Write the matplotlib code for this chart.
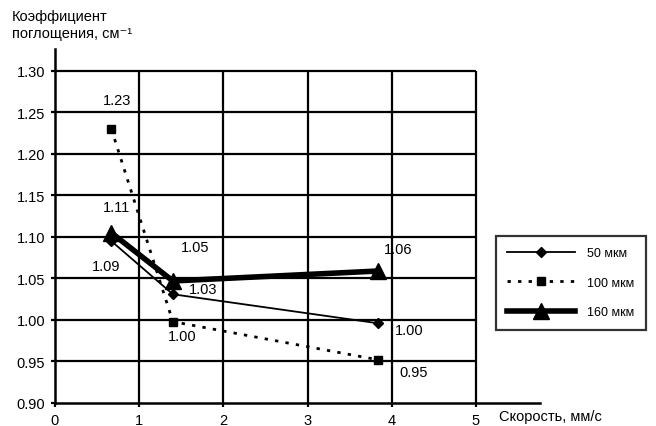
import matplotlib
matplotlib.use('Agg')
import matplotlib.pyplot as plt

plt.rcParams['font.family'] = ['Liberation Sans', 'DejaVu Sans']

# speed, mm/s
speed = [0.67, 1.40, 3.84]

# absorption coefficient for each layer thickness
coef_50 = [1.095, 1.031, 0.996]
coef_100 = [1.23, 0.998, 0.952]
coef_160 = [1.105, 1.047, 1.059]

labels_50 = ['1.09', '1.03', '1.00']
labels_100 = ['1.23', '1.00', '0.95']
labels_160 = ['1.11', '1.05', '1.06']

series_names = ['50 мкм', '100 мкм', '160 мкм']

x_ticks = [0, 1, 2, 3, 4, 5]
y_ticks = [0.90, 0.95, 1.00, 1.05, 1.10, 1.15, 1.20, 1.25, 1.30]

fig = plt.figure(figsize=(6.56, 4.27), dpi=100)
ax = fig.add_axes([0.0838, 0.0539, 0.823 - 0.0838, 0.883 - 0.0539])

# grid drawn only inside the 0..5 / 0.90..1.30 box
ax.hlines(y_ticks[1:], 0, x_ticks[-1], color='black', lw=1.6, zorder=1)
ax.vlines(x_ticks[1:], y_ticks[0], y_ticks[-1], color='black', lw=1.6, zorder=1)

ax.plot(speed, coef_50, color='black', lw=1.3, marker='D', markersize=5.5,
        label=series_names[0], zorder=3)
ax.plot(speed, coef_100, color='black', lw=2.0, linestyle=(0, (1.2, 2.6)),
        marker='s', markersize=6, label=series_names[1], zorder=3)
ax.plot(speed, coef_160, color='black', lw=4.0, marker='^', markersize=11,
        label=series_names[2], zorder=4)

# value labels, offsets in pixels from the marker
offsets_50 = [(-5, -25), (30, 5), (31, -7)]
offsets_100 = [(6, 29), (9, -14), (35, -12)]
offsets_160 = [(5, 26), (22, 34), (20, 22)]

for ys, labs, offs in [(coef_50, labels_50, offsets_50),
                       (coef_100, labels_100, offsets_100),
                       (coef_160, labels_160, offsets_160)]:
    for x, y, t, o in zip(speed, ys, labs, offs):
        ax.annotate(t, (x, y), xytext=o, textcoords='offset pixels',
                    ha='center', va='center', fontsize=10.5, zorder=5)

ax.set_xlim(0, 5.76)
ax.set_ylim(0.90, 1.3265)
ax.set_xticks(x_ticks)
ax.set_yticks(y_ticks)
ax.set_yticklabels([f'{v:.2f}' for v in y_ticks])
ax.tick_params(axis='both', labelsize=10.5, width=1.6, length=3, direction='out', pad=4)

for side in ['top', 'right']:
    ax.spines[side].set_visible(False)
for side in ['left', 'bottom']:
    ax.spines[side].set_linewidth(1.8)

fig.text(12 / 656, 1 - 10 / 427, 'Коэффициент\nпоглощения, см⁻¹',
         ha='left', va='top', fontsize=10.5, linespacing=1.25)
fig.text(499 / 656, 1 - 417 / 427, 'Скорость, мм/с', ha='left', va='center',
         fontsize=10.5)

leg = fig.legend(loc='upper left', bbox_to_anchor=(496 / 656, 1 - 237 / 427),
                 fontsize=9, handlelength=5.4, labelspacing=1.4,
                 fancybox=False, frameon=True, borderpad=0.9, handletextpad=1.0,
                 borderaxespad=0)
leg.get_frame().set_edgecolor('black')
leg.get_frame().set_linewidth(1.6)

fig.savefig('out.png', dpi=100)
